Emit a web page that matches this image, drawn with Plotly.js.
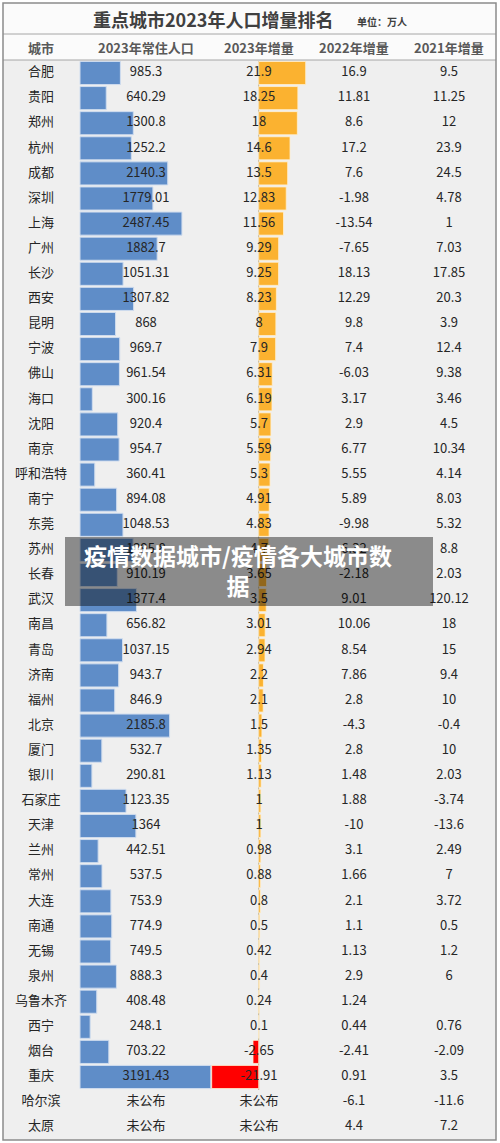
<!DOCTYPE html>
<html>
<head>
<meta charset="utf-8">
<script src="https://cdn.plot.ly/plotly-3.0.1.min.js"></script>
<style>html,body{margin:0;padding:0;background:#fff;}#chart{width:500px;height:1143px;}</style>
</head>
<body>
<div id="chart"></div>
<script>
// ---- data ----
const cities = ["合肥","贵阳","郑州","杭州","成都","深圳","上海","广州","长沙","西安","昆明","宁波","佛山","海口","沈阳","南京","呼和浩特","南宁","东莞","苏州","长春","武汉","南昌","青岛","济南","福州","北京","厦门","银川","石家庄","天津","兰州","常州","大连","南通","无锡","泉州","乌鲁木齐","西宁","烟台","重庆","哈尔滨","太原"];
const pop2023 = [985.3,640.29,1300.8,1252.2,2140.3,1779.01,2487.45,1882.7,1051.31,1307.82,868,969.7,961.54,300.16,920.4,954.7,360.41,894.08,1048.53,1295.8,910.19,1377.4,656.82,1037.15,943.7,846.9,2185.8,532.7,290.81,1123.35,1364,442.51,537.5,753.9,774.9,749.5,888.3,408.48,248.1,703.22,3191.43,null,null];
const inc2023 = [21.9,18.25,18,14.6,13.5,12.83,11.56,9.29,9.25,8.23,8,7.9,6.31,6.19,5.7,5.59,5.3,4.91,4.83,4.7,3.65,3.5,3.01,2.94,2.2,2.1,1.5,1.35,1.13,1,1,0.98,0.88,0.8,0.5,0.42,0.4,0.24,0.1,-2.65,-21.91,null,null];
const inc2022 = [16.9,11.81,8.6,17.2,7.6,-1.98,-13.54,-7.65,18.13,12.29,9.8,7.4,-6.03,3.17,2.9,6.77,5.55,5.89,-9.98,6.32,-2.18,9.01,10.06,8.54,7.86,2.8,-4.3,2.8,1.48,1.88,-10,3.1,1.66,2.1,1.1,1.13,2.9,1.24,0.44,-2.41,0.91,-6.1,4.4];
const inc2021 = [9.5,11.25,12,23.9,24.5,4.78,1,7.03,17.85,20.3,3.9,12.4,9.38,3.46,4.5,10.34,4.14,8.03,5.32,8.8,2.03,120.12,18,15,9.4,10,-0.4,10,2.03,-3.74,-13.6,2.49,7,3.72,0.5,1.2,6,null,0.76,-2.09,3.5,-11.6,7.2];
const headers = ["城市","2023年常住人口","2023年增量","2022年增量","2021年增量"];
const titleText = "重点城市2023年人口增量排名";
const unitText = "单位：万人";
const missingText = "未公布";
const watermark = "疫情数据城市/疫情各大城市数<br>据";

// ---- layout constants (pixels) ----
const W = 500, H = 1143;
const colX = [41, 146, 259, 354, 449];
const py = p => 1 - p / H;
const FONT = "Noto Sans CJK SC, Noto Sans, sans-serif";
const n = cities.length;

const fmt = (v, miss) => (v === null || v === undefined) ? miss : String(v);

const textFont = {family: FONT, size: 13, color: "#262626"};
function textTrace(xpix, labels) {
  return {
    type: "scatter", mode: "text", xaxis: "x3", yaxis: "y",
    x: cities.map(() => xpix), y: cities, text: labels,
    textposition: "middle center", textfont: textFont,
    hoverinfo: "skip", showlegend: false, cliponaxis: false
  };
}

const traces = [
  {
    type: "bar", orientation: "h", xaxis: "x", yaxis: "y",
    x: pop2023, y: cities, width: 0.92,
    marker: {color: "#5f8dc8", line: {color: "#cfdcee", width: 1}},
    hoverinfo: "skip", showlegend: false
  },
  {
    type: "bar", orientation: "h", xaxis: "x2", yaxis: "y",
    x: inc2023, y: cities, width: 0.92,
    marker: {color: inc2023.map(v => v < 0 ? "#ff0000" : "#fbb230"),
             line: {color: "rgba(255,240,210,0.8)", width: 1}},
    hoverinfo: "skip", showlegend: false
  },
  textTrace(colX[0], cities),
  textTrace(colX[1], pop2023.map(v => fmt(v, missingText))),
  textTrace(colX[2], inc2023.map(v => fmt(v, missingText))),
  textTrace(colX[3], inc2022.map(v => fmt(v, ""))),
  textTrace(colX[4], inc2021.map(v => fmt(v, "")))
];

// row geometry: first row center at 73px, pitch 25.1px
const rowTop = 73, pitch = 25.1;
const yTopIdx = -rowTop / pitch;
const yBotIdx = (H - rowTop) / pitch;

// blue scale: 0 at x=80px, 24.4 units per px; orange: 0 at 258.7px, 2.146 px per unit
const bluePerPx = 24.4, blueZero = 80;
const orZero = 258.7, orPxPerUnit = 2.146;

const hidden = {visible: false, showgrid: false, zeroline: false, fixedrange: true};

const shapes = [
  {type: "rect", xref: "paper", yref: "paper", x0: 3/W, x1: 496/W, y0: py(3), y1: py(60), fillcolor: "#fbfbfb", line: {width: 0}, layer: "below"},
  {type: "rect", xref: "paper", yref: "paper", x0: 3/W, x1: 496/W, y0: py(60), y1: py(1140), fillcolor: "#efefef", line: {width: 0}, layer: "below"},
  {type: "line", xref: "x2", yref: "paper", x0: 0, x1: 0, y0: py(61), y1: py(1090), line: {color: "#c2b38f", width: 1}, layer: "below"},
  {type: "line", xref: "paper", yref: "paper", x0: 3/W, x1: 496/W, y0: py(34), y1: py(34), line: {color: "#a6a6a6", width: 1}},
  {type: "line", xref: "paper", yref: "paper", x0: 3/W, x1: 496/W, y0: py(60), y1: py(60), line: {color: "#a6a6a6", width: 1}},
  {type: "rect", xref: "paper", yref: "paper", x0: 3/W, x1: 496/W, y0: py(3), y1: py(1140), line: {color: "#8c8c8c", width: 1.5}, fillcolor: "rgba(0,0,0,0)"},
  {type: "rect", xref: "paper", yref: "paper", x0: 65/W, x1: 433/W, y0: py(537), y1: py(606), fillcolor: "rgba(0,0,0,0.42)", line: {width: 0}, layer: "above"}
];

const annotations = [
  {xref: "paper", yref: "paper", x: 213/W, y: py(19), text: titleText, showarrow: false,
   font: {family: FONT, size: 18, color: "#404040", weight: "bold"}, xanchor: "center", yanchor: "middle"},
  {xref: "paper", yref: "paper", x: 382/W, y: py(21), text: unitText, showarrow: false,
   font: {family: FONT, size: 10, color: "#404040", weight: "bold"}, xanchor: "center", yanchor: "middle"},
  ...headers.map((h, i) => ({xref: "paper", yref: "paper", x: colX[i]/W, y: py(47.5), text: h, showarrow: false,
   font: {family: FONT, size: 13, color: "#595959", weight: "bold"}, xanchor: "center", yanchor: "middle"})),
  {xref: "paper", yref: "paper", x: 238/W, y: py(570), text: watermark, showarrow: false,
   font: {family: FONT, size: 23, color: "#ffffff", weight: "bold"}, xanchor: "center", yanchor: "middle", align: "center"}
];

const layout = {
  width: W, height: H,
  margin: {l: 0, r: 0, t: 0, b: 0, pad: 0},
  paper_bgcolor: "#ffffff", plot_bgcolor: "rgba(0,0,0,0)",
  showlegend: false,
  xaxis: Object.assign({}, hidden, {domain: [0, 1], range: [-blueZero * bluePerPx, (W - blueZero) * bluePerPx]}),
  xaxis2: Object.assign({}, hidden, {overlaying: "x", range: [-orZero / orPxPerUnit, (W - orZero) / orPxPerUnit]}),
  xaxis3: Object.assign({}, hidden, {overlaying: "x", range: [0, W]}),
  yaxis: Object.assign({}, hidden, {type: "category", categoryarray: cities, categoryorder: "array", domain: [0, 1], range: [yBotIdx, yTopIdx]}),
  shapes: shapes,
  annotations: annotations
};

Plotly.newPlot("chart", traces, layout, {staticPlot: true, displayModeBar: false});
</script>
</body>
</html>
